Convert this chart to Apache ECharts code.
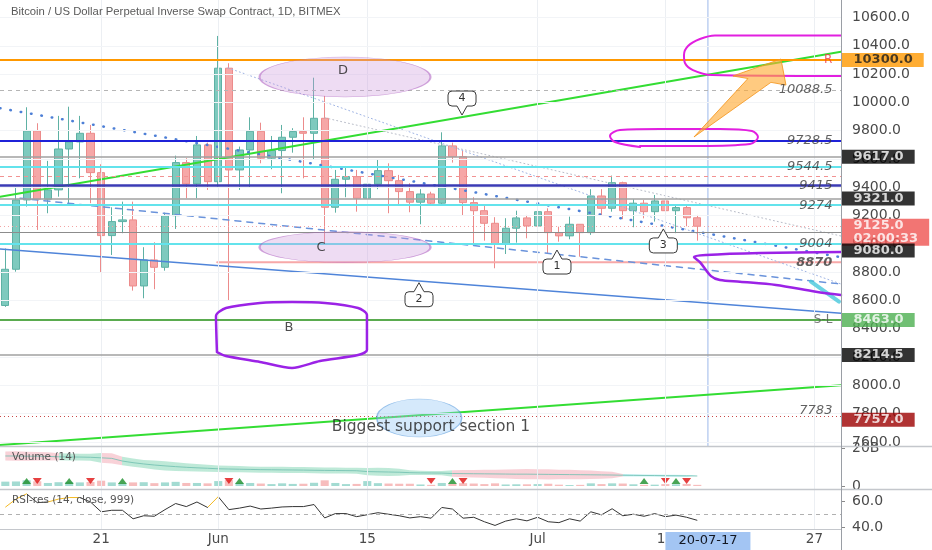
<!DOCTYPE html>
<html><head><meta charset="utf-8">
<script src="https://cdn.jsdelivr.net/npm/echarts@6.0.0/dist/echarts.min.js"></script>
<style>html,body{margin:0;padding:0;background:#fff}#c{width:932px;height:550px}</style>
</head><body><div id="c"></div><script>
// ---------- data ----------
const dates = ['2020-05-12','2020-05-13','2020-05-14','2020-05-15','2020-05-16','2020-05-17','2020-05-18','2020-05-19','2020-05-20','2020-05-21','2020-05-22','2020-05-23','2020-05-24','2020-05-25','2020-05-26','2020-05-27','2020-05-28','2020-05-29','2020-05-30','2020-05-31',
'2020-06-01','2020-06-02','2020-06-03','2020-06-04','2020-06-05','2020-06-06','2020-06-07','2020-06-08','2020-06-09','2020-06-10','2020-06-11','2020-06-12','2020-06-13','2020-06-14','2020-06-15','2020-06-16','2020-06-17','2020-06-18','2020-06-19','2020-06-20','2020-06-21','2020-06-22','2020-06-23','2020-06-24','2020-06-25','2020-06-26','2020-06-27','2020-06-28','2020-06-29','2020-06-30',
'2020-07-01','2020-07-02','2020-07-03','2020-07-04','2020-07-05','2020-07-06','2020-07-07','2020-07-08','2020-07-09','2020-07-10','2020-07-11','2020-07-12','2020-07-13','2020-07-14','2020-07-15','2020-07-16','2020-07-17','2020-07-18','2020-07-19','2020-07-20','2020-07-21','2020-07-22','2020-07-23','2020-07-24','2020-07-25','2020-07-26','2020-07-27','2020-07-28','2020-07-29'];

const opens  = [8565,8821,9311,9799,9316,9382,9671,9721,9782,9504, 9059,9158,9170,8703,8887,8835,9200,9575,9424,9700, 9440,10242,9523,9664,9796,9606,9660,9754,9794,9782, 9888,9259,9457,9476,9323,9422,9518,9447,9370,9295, 9353,9288,9693,9617,9292,9235,9146,9000,9111,9184, 9127,9228,9080,9057,9139,9080,9339,9252,9433,9235, 9288,9228,9304,9235,9257,9185];
const highs  = [8968,9405,9966,9853,9587,9905,9970,9905,9841,9563, 9259,9299,9299,8977,9012,9221,9624,9606,9763,9716, 10470,10277,9688,9895,9857,9763,9841,9818,9895,10175, 10046,9523,9542,9523,9542,9594,9570,9488,9429,9387, 9369,9789,9716,9660,9330,9276,9189,9182,9235,9205, 9292,9252,9122,9193,9139,9387,9387,9483,9440,9316, 9311,9346,9377,9275,9281,9205];
const lows   = [8555,8804,9264,9099,9217,9334,9276,9464,9288,8797, 8922,9076,8670,8616,8680,8811,9106,9323,9323,9382, 9405,8599,9382,9401,9570,9528,9358,9645,9464,9599, 9005,9221,9330,9228,8887,9387,9217,9269,9224,9139, 9280,9276,9575,9198,8986,9023,8828,8929,9009,9040, 9080,8934,9016,9033,8910,9064,9198,9228,9175,9118, 9181,9158,9197,9076,9125,9023];
const closes = [8821,9311,9799,9316,9382,9671,9721,9782,9504,9059, 9158,9170,8703,8887,8835,9200,9575,9424,9700,9440, 10242,9523,9664,9796,9606,9660,9754,9794,9782,9888, 9259,9457,9476,9323,9422,9518,9447,9370,9295,9353, 9288,9693,9617,9292,9235,9146,9000,9111,9184,9127, 9228,9080,9057,9139,9080,9339,9252,9433,9235,9288, 9228,9304,9235,9257,9185,9125];

// volume in billions
const volumes = [2.3,2.4,3.0,2.5,1.6,2.0,2.2,1.9,2.1,2.8, 1.9,1.3,1.9,2.0,1.5,1.9,2.2,1.6,1.6,1.4, 2.6,3.1,1.7,1.6,1.3,1.0,1.4,1.1,1.2,1.7, 3.0,1.6,1.0,1.1,2.6,1.5,1.3,1.2,1.2,0.8, 0.6,1.6,1.1,1.5,1.3,1.0,1.4,0.8,0.9,0.9, 1.0,1.2,0.7,0.5,0.6,1.4,1.0,1.4,1.3,0.9, 0.6,0.7,1.0,0.9,1.1,0.6];
const volMa = [3.07,3.07,3.05,3.05,3.03, 3.00,2.98,2.97,2.95, 2.90,2.85, 2.60,2.45,2.33, 2.23,2.15,2.08,2.02,1.97,1.93, 1.88,1.86,1.84,1.82,1.80,1.79,1.78,1.77,1.76, 1.74,1.73,1.72,1.71,1.70, 1.62,1.60,1.58,1.56, 1.52,1.50,1.49,1.48, 1.44,1.43,1.42,1.41,1.40,1.39,1.38,1.38,1.37,1.36,1.35,1.34,1.33,1.32,1.31,1.30, 1.28,1.27,1.26,1.25,1.24,1.23,1.22,1.21];
const volBand = [.42,.44,.42,.40,.38, .33,.33,.32,.32, .45,.47, .40,.38,.37, .42,.42,.40,.38,.35,.33, .30,.30,.29,.28,.28,.28,.28,.28,.28, .28,.28,.27,.27,.27, .33,.37,.37,.33, .22,.19,.19,.19, .30,.33,.35,.37,.40,.42,.45,.47,.47,.47,.45,.44,.42,.40,.35,.30, .12,.10,.09,.09,.09,.09,.09,.09];
const volUpIdx = [2,6,11,22,42,60,63];
const volDownIdx = [3,8,21,40,43,62,64];
const volMarkerLevel = 2.7;

const rsi = [55.5,61.9,66.0,59.1,59.6,61.9,63.1,63.1,59.6,51.9, 53.1,53.1,46.4,48.8,48.4,53.6,58.4,56.0,59.6,55.3, 63.8,53.6,54.8,56.4,54.1,54.8,55.7,56.0,56.0,57.6, 47.1,50.5,50.5,48.1,49.6,51.2,50.0,48.8,47.1,48.1, 46.9,55.3,54.1,46.9,47.6,44.1,41.2,44.6,46.4,44.8, 47.6,44.1,43.4,46.4,44.6,51.9,49.5,54.3,48.8,50.0, 48.4,50.5,48.1,49.3,47.6,45.2];

// tick labels
const yTickValues = [7600,7800,8000,8200,8400,8600,8800,9000,9200,9400,9600,9800,10000,10200,10400,10600];
const xTickIdx = [9,20,34,50,62,76];
const xTickText = ['21','Jun','15','Jul','13','27'];
const cursorIdx = 66;
const cursorText = '20-07-17';

// horizontal levels
const levelPrices = [10300,10088.5,9728.5,9617,9544.5,9481,9415,9321,9274,9125,9080,9004,8463,8214.5,7783];
const level8870 = [[19.9,8870],[78.5,8870]];
const tagPrices = [10300,9617,9321,9125,9080,8463,8214.5,7757];
const tagTexts = ['10300.0','9617.0','9321.0','9125.0\n02:00:33','9080.0','8463.0','8214.5','7757.0'];
const lineLabelPrices = [10088.5,9728.5,9544.5,9415,9274,9004,8870,7783];
const lineLabelTexts = ['10088.5','9728.5','9544.5','9415','9274','9004','8870','7783'];
const edgeTextPrices = [10300,8463];
const edgeTexts = ['R','S-L'];

// trend lines [dayIndex, price]
const trendGreenHigh = [[-0.5,9334],[78.5,10359]];
const trendGreenLow = [[-0.5,7579],[78.5,8001]];
const trendBlueSolid = [[-0.5,8964],[78.5,8510]];
const trendBlueDots = [[-0.5,9959],[78.5,8906]];
const trendBlueDash = [[1.38,9323],[78.5,8717]];
const trendFaintA = [[20.92,10244],[78.5,8717]];
const trendFaintB = [[30.03,9891],[78.5,9056]];
const cyanStroke = [[75.68,8733],[78.31,8592]];
const cursorLine = [[66,7572],[66,10724]];

// hand drawn shapes
const shapeB = [[19.88,8236],[19.79,8491],[20.73,8547],[23.92,8583],[26.93,8590],[30.03,8583],[33.13,8547],[33.97,8498],[33.97,8250],[33.13,8215],[29.56,8173],[26.93,8123],[23.92,8166],[20.73,8208],[19.88,8236]];
const shapeMagentaTop = [[78.5,10473],[66.66,10473],[65.25,10448],[64.13,10399],[63.75,10335],[63.84,10279],[64.59,10229],[66.38,10194],[78.5,10187]];
const shapeMagentaLoop = [[59.62,9685],[57.27,9720],[56.80,9763],[57.74,9805],[61.50,9812],[67.13,9812],[70.14,9798],[70.70,9756],[69.95,9706],[65.25,9692],[59.62,9692]];
const shapeViolet = [[78.5,8943],[70.89,8936],[65.82,8922],[64.69,8908],[65.25,8872],[66.29,8773],[67.13,8745],[69.01,8733],[72.39,8710],[76.15,8662],[78.5,8639]];
const arrowV = [64.69,69.76,68.35,72.86,73.33,71.92];
const arrowP = [9756,10169,10187,10307,10123,10142];

const ellipseV = [31.91,31.91,38.88];
const ellipseP = [10180,8977,7770];
const noteTexts = ['D','C','B','Biggest support section 1'];
const noteV = [31.72,29.65,26.65,39.98];
const noteP = [10223,8972,8406,7707];

const calloutTexts = ['4','1','2','3'];
const calloutV = [42.9,51.82,38.86,61.81];
const calloutP = [9911,8957,8726,9106];
const calloutDir = [-1,1,1,1];

// ---------- styles ----------
const FONT = 'DejaVu Sans';
const levelStyles = [
  {color:'#ff9800',width:2,type:'solid'},
  {color:'#b5b5b5',width:1,type:[4,4]},
  {color:'#1f22d8',width:2,type:'solid'},
  {color:'#a0a0a0',width:1.5,type:'solid'},
  {color:'#63e3ec',width:2,type:'solid'},
  {color:'#f29292',width:1,type:[4,4]},
  {color:'#3b3bb5',width:2.5,type:'solid'},
  {color:'#a0a0a0',width:1.5,type:'solid'},
  {color:'#63e3ec',width:2,type:'solid'},
  {color:'#f4a3a3',width:1,type:[1,3]},
  {color:'#8c8c8c',width:1,type:'solid'},
  {color:'#63e3ec',width:2,type:'solid'},
  {color:'#5aab4f',width:2,type:'solid'},
  {color:'#a0a0a0',width:1.5,type:'solid'},
  {color:'#c84848',width:1,type:[1,3]}
];
const tagBg = ['#ff9800','#000','#000','#ef5350','#000','#4caf50','#000','#9c0000'];
const tagFg = ['#1c1c1c','#fff','#fff','#fff','#fff','#fff','#fff','#fff'];
const tagOffset = [[0,0],[0,0],[0,0],[0,6],[0,18],[0,0],[0,0],[0,0]];
const ellipseSizes = [[171,40],[171,31],[85,38]];
const ellipseStyles = [
  {color:'rgba(206,150,218,0.42)',borderColor:'rgba(170,90,190,0.65)',borderWidth:1},
  {color:'rgba(206,150,218,0.42)',borderColor:'rgba(170,90,190,0.65)',borderWidth:1},
  {color:'rgba(150,200,245,0.5)',borderColor:'rgba(80,150,220,0.7)',borderWidth:1}
];
const labelRightV = 77.74;
const tickEndV = 78.88;

const chart = echarts.init(document.getElementById('c'));

function seg(data, color, width, type, z, smooth) {
  return {type:'line', xAxisIndex:1, yAxisIndex:0, data, showSymbol:false, symbol:'none', silent:true,
    smooth: smooth || false, z: z || 4, clip:false,
    lineStyle:{color, width, type: type || 'solid', cap:'round', join:'round'}};
}

function calloutRender(params, api) {
  const i = params.dataIndex;
  const pt = api.coord([api.value(0), api.value(1)]);
  const dir = calloutDir[i];
  const w = 28, h = 15, ph = 9, pb = 5, r = 4;
  const x = pt[0], y = pt[1];
  const L = x - w/2, R = x + w/2;
  let d, cy;
  if (dir > 0) {
    const T = y + ph, B = T + h; cy = (T + B) / 2;
    d = `M${x},${y} L${x+pb},${T} L${R-r},${T} Q${R},${T} ${R},${T+r} L${R},${B-r} Q${R},${B} ${R-r},${B} L${L+r},${B} Q${L},${B} ${L},${B-r} L${L},${T+r} Q${L},${T} ${L+r},${T} L${x-pb},${T} Z`;
  } else {
    const B = y - ph, T = B - h; cy = (T + B) / 2;
    d = `M${x},${y} L${x-pb},${B} L${L+r},${B} Q${L},${B} ${L},${B-r} L${L},${T+r} Q${L},${T} ${L+r},${T} L${R-r},${T} Q${R},${T} ${R},${T+r} L${R},${B-r} Q${R},${B} ${R-r},${B} L${x+pb},${B} Z`;
  }
  return {type:'group', children:[
    {type:'path', shape:{pathData:d}, style:{fill:'#fff', stroke:'#3a3a3a', lineWidth:1}},
    {type:'text', style:{text:calloutTexts[i], x:x, y:cy, align:'center', verticalAlign:'middle', fill:'#333', fontSize:11, fontFamily:FONT}}
  ]};
}

const series = [];
// grid lines main (vertical + horizontal)
series.push({type:'line', xAxisIndex:1, yAxisIndex:0, data:[], z:1, silent:true,
  markLine:{symbol:'none', silent:true, animation:false, label:{show:false},
    lineStyle:{color:'#eceff3', width:1, type:'solid'},
    data: xTickIdx.map(i => ({xAxis:i})).concat(yTickValues.map(v => ({yAxis:v, lineStyle:{color:'#f2f4f7', width:1, type:'solid'}})))}});
// axis ticks main
series.push({type:'line', xAxisIndex:1, yAxisIndex:0, data:[], z:1, silent:true, clip:false,
  markLine:{symbol:'none', silent:true, animation:false, label:{show:false},
    lineStyle:{color:'#8a8a8a', width:1, type:'solid'},
    data: yTickValues.map(v => [{coord:[78.5, v]}, {coord:[tickEndV, v]}])}});
// candles
series.push({type:'candlestick', xAxisIndex:0, yAxisIndex:0, z:2, barWidth:'72%',
  data: opens.map((o,i) => [o, closes[i], lows[i], highs[i]]),
  itemStyle:{color:'#7ecabe', color0:'#f6a7a7', borderColor:'#5eb1a4', borderColor0:'#ec8b8b', borderWidth:1}});
// horizontal levels
series.push({type:'line', xAxisIndex:1, yAxisIndex:0, data:[], z:3, silent:true,
  markLine:{symbol:'none', silent:true, animation:false, label:{show:false},
    data: levelPrices.map((p,i) => ({yAxis:p, lineStyle:levelStyles[i]}))}});
series.push(seg(level8870, '#f7a8a8', 2, 'solid', 3));
// trend lines
series.push(seg(trendGreenHigh, '#33dd33', 2, 'solid', 4));
series.push(seg(trendGreenLow, '#33dd33', 2, 'solid', 4));
series.push(seg(trendBlueSolid, '#4f84d9', 1.5, 'solid', 4));
series.push(seg(trendBlueDots, '#4d7fd6', 2.5, [0.5,10], 4));
series.push(seg(trendBlueDash, '#6a93db', 1.5, [6,6], 4));
series.push(seg(trendFaintA, '#9eb3e4', 1, [1,3], 4));
series.push(seg(trendFaintB, '#b8bcc8', 1, [1,3], 4));
series.push(seg(cyanStroke, 'rgba(70,200,220,0.8)', 4, 'solid', 5));
series.push(seg(cursorLine, '#9cb9ea', 1, 'solid', 3));
// shapes
series.push(seg(shapeB, '#9b22e6', 2.5, 'solid', 5, 0.25));
series.push(seg(shapeMagentaTop, '#e21fe0', 2, 'solid', 5, 0.3));
series.push(seg(shapeMagentaLoop, '#e21fe0', 2, 'solid', 5, 0.35));
series.push(seg(shapeViolet, '#9b22e6', 2.5, 'solid', 5, 0.3));
// arrow
series.push({type:'custom', xAxisIndex:1, yAxisIndex:0, z:6, silent:true, clip:false,
  data:[[arrowV[0], arrowP[0]]],
  renderItem:(params, api) => ({type:'polygon', shape:{points: arrowV.map((v,k) => api.coord([v, arrowP[k]]))},
    style:{fill:'rgba(255,170,50,0.62)', stroke:'rgba(245,150,30,0.85)', lineWidth:1}})});
// ellipses
series.push({type:'scatter', xAxisIndex:1, yAxisIndex:0, z:5, silent:true, clip:false, symbol:'circle',
  data: ellipseV.map((v,i) => ({value:[v, ellipseP[i]], symbolSize: ellipseSizes[i], itemStyle: ellipseStyles[i]}))});
// callouts
series.push({type:'custom', xAxisIndex:1, yAxisIndex:0, z:7, silent:true, clip:false,
  data: calloutV.map((v,i) => [v, calloutP[i]]), renderItem: calloutRender});
// texts
const textData = [];
lineLabelPrices.forEach((p,i) => textData.push({value:[labelRightV, p], label:{show:true, position:'left', distance:0,
  formatter: lineLabelTexts[i], fontStyle:'italic', fontWeight: lineLabelTexts[i]==='8870' ? 'bold' : 'normal',
  color:'#3a3a3a', fontSize:13, fontFamily:FONT, offset: lineLabelTexts[i]==='7783' ? [0,-6] : [0,0]}}));
edgeTextPrices.forEach((p,i) => textData.push({value:[labelRightV, p], label:{show:true, position:'left', distance:0,
  formatter: edgeTexts[i], color: edgeTexts[i]==='R' ? '#f23645' : '#555', fontSize:12, fontFamily:FONT}}));
noteTexts.forEach((t,i) => textData.push({value:[noteV[i], noteP[i]], label:{show:true, position:'inside',
  formatter: t, color:'#222', fontSize: t.length > 2 ? 15.5 : 13, fontFamily:FONT}}));
series.push({type:'scatter', xAxisIndex:1, yAxisIndex:0, z:8, silent:true, clip:false, symbolSize:1,
  itemStyle:{color:'transparent'}, data:textData});
// price tags on axis
series.push({type:'scatter', xAxisIndex:1, yAxisIndex:0, z:20, silent:true, clip:false, symbolSize:1,
  itemStyle:{color:'transparent'},
  data: tagPrices.map((p,i) => ({value:[78.5, p], label:{show:true, position:'right', distance:0, offset:tagOffset[i],
    formatter: tagTexts[i], backgroundColor: tagBg[i], color: tagFg[i], fontWeight:'bold', fontSize:13,
    fontFamily:FONT, lineHeight:13, padding:[1,11,0,12], align:'left'}}))});

// ----- volume panel -----
series.push({type:'line', xAxisIndex:2, yAxisIndex:1, data:[], z:1, silent:true,
  markLine:{symbol:'none', silent:true, animation:false, label:{show:false},
    lineStyle:{color:'#eceff3', width:1, type:'solid'}, data: xTickIdx.map(i => ({xAxis:dates[i]}))}});
series.push({type:'line', xAxisIndex:2, yAxisIndex:2, stack:'vb', data: volMa.map((m,i) => +(m - volBand[i]).toFixed(3)),
  showSymbol:false, symbol:'none', silent:true, lineStyle:{width:0, opacity:0}, z:2});
const bandSeriesIndex = series.length;
series.push({type:'line', xAxisIndex:2, yAxisIndex:2, stack:'vb', data: volBand.map(b => +(2*b).toFixed(3)),
  showSymbol:false, symbol:'none', silent:true, lineStyle:{width:0}, areaStyle:{opacity:0.45}, z:2});
series.push({type:'line', xAxisIndex:2, yAxisIndex:2, data: volMa, showSymbol:false, symbol:'none', silent:true,
  lineStyle:{width:1, color:'rgba(110,190,175,0.8)'}, z:3});
series.push({type:'bar', xAxisIndex:2, yAxisIndex:1, barWidth:'76%', silent:true, z:3,
  data: volumes.map((v,i) => ({value:v, itemStyle:{color: closes[i] >= opens[i] ? '#a3dbd2' : '#f7bdbd'}}))});
series.push({type:'scatter', xAxisIndex:2, yAxisIndex:1, symbol:'triangle', symbolSize:[9,6], silent:true, z:4,
  itemStyle:{color:'#1a8f2a'}, data: volUpIdx.map(i => [dates[i], volMarkerLevel])});
series.push({type:'scatter', xAxisIndex:2, yAxisIndex:1, symbol:'triangle', symbolRotate:180, symbolSize:[9,6], silent:true, z:4,
  itemStyle:{color:'#e01010'}, data: volDownIdx.map(i => [dates[i], volMarkerLevel])});

// ----- RSI panel -----
series.push({type:'line', xAxisIndex:3, yAxisIndex:3, data:[], z:1, silent:true,
  markLine:{symbol:'none', silent:true, animation:false, label:{show:false},
    lineStyle:{color:'#eceff3', width:1, type:'solid'}, data: xTickIdx.map(i => ({xAxis:dates[i]}))}});
const rsiSeriesIndex = series.length;
series.push({type:'line', xAxisIndex:3, yAxisIndex:3, data: rsi, showSymbol:false, symbol:'none', silent:true, z:3,
  lineStyle:{width:1}, markLine:{symbol:'none', silent:true, label:{show:false},
    lineStyle:{color:'#b0b0b0', type:[4,4], width:1}, data:[{yAxis:50}]}});

const option = {
  animation:false,
  backgroundColor:'#ffffff',
  title:[
    {text:'Bitcoin / US Dollar Perpetual Inverse Swap Contract, 1D, BITMEX', left:6, top:1,
      textStyle:{fontSize:11.3, color:'#5a5a5a', fontWeight:'normal', fontFamily:'Liberation Sans'}},
    {text:'Volume (14)', left:7, top:447, textStyle:{fontSize:10.5, color:'#555', fontWeight:'normal', fontFamily:FONT}},
    {text:'RSI-res (14, close, 999)', left:7, top:490, textStyle:{fontSize:10.5, color:'#555', fontWeight:'normal', fontFamily:FONT}}
  ],
  grid:[
    {left:0, right:91, top:0, height:446},
    {left:0, right:91, top:446, height:43},
    {left:0, right:91, top:489, height:44}
  ],
  xAxis:[
    {type:'category', gridIndex:0, data:dates, axisLine:{show:false}, axisTick:{show:false}, axisLabel:{show:false}, splitLine:{show:false}},
    {type:'value', gridIndex:0, min:-0.5, max:78.5, show:false},
    {type:'category', gridIndex:1, data:dates, axisLine:{show:false}, axisTick:{show:false}, axisLabel:{show:false}, splitLine:{show:false}},
    {type:'category', gridIndex:2, data:dates, axisLine:{show:true, lineStyle:{color:'#c4c7cc'}}, axisTick:{show:false}, splitLine:{show:false},
      axisLabel:{show:true, margin:3, color:'#4a4a4a', fontSize:13.5, fontFamily:FONT,
        interval:(i) => xTickIdx.includes(i) || i === cursorIdx,
        formatter:(val, i) => i === cursorIdx ? '{hl|' + cursorText + '}' : (xTickIdx.includes(i) ? xTickText[xTickIdx.indexOf(i)] : ''),
        rich:{hl:{backgroundColor:'#a3c5f3', color:'#131722', padding:[2,13,3,13], fontSize:13, fontFamily:FONT}}}}
  ],
  yAxis:[
    {type:'value', gridIndex:0, position:'right', min:7572, max:10724,
      axisLine:{show:false}, axisTick:{show:false},
      axisLabel:{customValues:yTickValues, formatter:(v) => v.toFixed(1), color:'#4a4a4a', fontSize:14, fontFamily:FONT, margin:11},
      splitLine:{show:false}},
    {type:'value', gridIndex:1, position:'right', min:-1.6, max:21.2,
      axisLine:{show:false}, axisTick:{show:true, customValues:[0,20], length:4, lineStyle:{color:'#8a8a8a'}},
      axisLabel:{customValues:[0,20], formatter:(v) => v === 0 ? '0' : v + 'B', color:'#4a4a4a', fontSize:14, fontFamily:FONT, margin:11},
      splitLine:{show:false}},
    {type:'value', gridIndex:1, min:0, max:4, show:false},
    {type:'value', gridIndex:2, position:'right', min:38.4, max:69.8,
      axisLine:{show:false}, axisTick:{show:true, customValues:[40,60], length:4, lineStyle:{color:'#8a8a8a'}},
      axisLabel:{customValues:[40,60], formatter:(v) => v.toFixed(1), color:'#4a4a4a', fontSize:14, fontFamily:FONT, margin:11},
      splitLine:{show:false}}
  ],
  visualMap:[
    {type:'piecewise', show:false, seriesIndex:rsiSeriesIndex, dimension:0,
      pieces:[{gte:0,lte:2,color:'#f3b922'},{gt:2,lt:4,color:'#333'},{gte:4,lte:7,color:'#f3b922'},{gt:7,lt:19,color:'#333'},{gte:19,lte:20,color:'#f3b922'},{gt:20,color:'#333'}]},
    {type:'piecewise', show:false, seriesIndex:bandSeriesIndex, dimension:0,
      pieces:[{lte:4.5,color:'#f09aa8'},{gt:4.5,lte:8.5,color:'#6fcfa8'},{gt:8.5,lte:10.5,color:'#f09aa8'},{gt:10.5,lte:41.5,color:'#6fcfa8'},{gt:41.5,lte:57.5,color:'#f09aa8'},{gt:57.5,color:'#7fe3ea'}]}
  ],
  graphic:[
    {type:'line', silent:true, z:100, shape:{x1:0,y1:446.5,x2:932,y2:446.5}, style:{stroke:'#c4c7cc', lineWidth:1.5}},
    {type:'line', silent:true, z:100, shape:{x1:0,y1:489.5,x2:932,y2:489.5}, style:{stroke:'#c4c7cc', lineWidth:1.5}},
    {type:'line', silent:true, z:100, shape:{x1:841.5,y1:0,x2:841.5,y2:550}, style:{stroke:'#9a9ea5', lineWidth:1}}
  ],
  series
};
chart.setOption(option);
</script></body></html>
